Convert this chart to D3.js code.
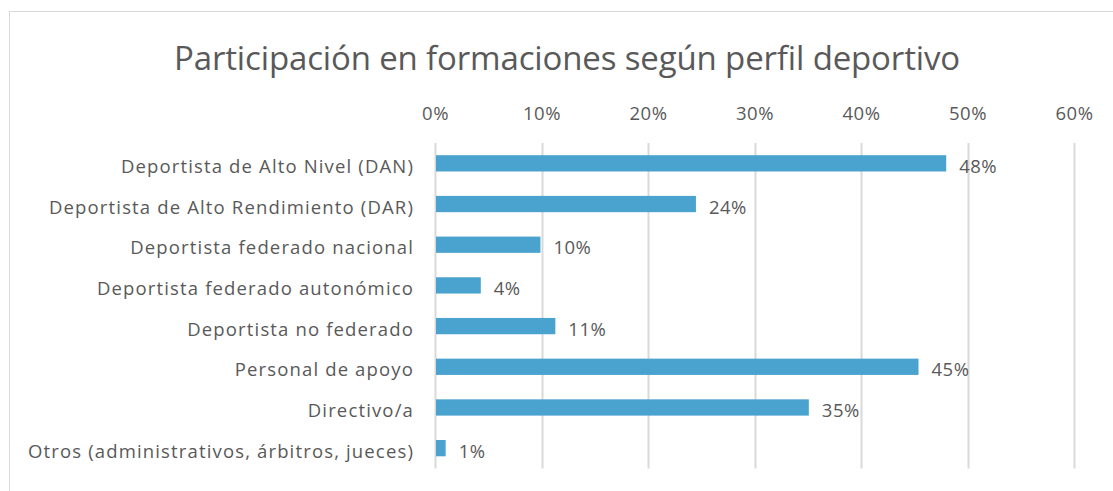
<!DOCTYPE html>
<html>
<head>
<meta charset="utf-8">
<script src="https://cdn.jsdelivr.net/npm/d3@7"></script>
<style>
  body { margin: 0; background: #fff; }
  text { font-family: "Open Sans", Lato, sans-serif; fill: #595959; }
</style>
</head>
<body>
<svg width="1113" height="491"></svg>
<script>
// chart data
var categories = [
    'Deportista de Alto Nivel (DAN)',
    'Deportista de Alto Rendimiento (DAR)',
    'Deportista federado nacional',
    'Deportista federado autonómico',
    'Deportista no federado',
    'Personal de apoyo',
    'Directivo/a',
    'Otros (administrativos, árbitros, jueces)'
];
var values = [0.48, 0.245, 0.099, 0.043, 0.113, 0.454, 0.351, 0.01];
var labels = ['48%', '24%', '10%', '4%', '11%', '45%', '35%', '1%'];
var ticks = [0, 0.1, 0.2, 0.3, 0.4, 0.5, 0.6];
var title = 'Participación en formaciones según perfil deportivo';

var svg = d3.select('svg');

// letter-spacing so a text node reaches a target width
function fitSpacing(node, target) {
    var w = node.getComputedTextLength();
    return (target - w) / node.textContent.length;
}

// chart area border
svg.append('rect')
    .attr('x', 9.5).attr('y', 11.5)
    .attr('width', 1200).attr('height', 600)
    .attr('fill', 'none')
    .attr('stroke', '#d9d9d9');

var plot = {l: 435, r: 1074, t: 143, b: 468.5};

var x = d3.scaleLinear().domain([0, 0.6]).range([plot.l, plot.r]);
var y = d3.scaleBand().domain(categories).range([plot.t, plot.b]).paddingInner(0.6).paddingOuter(0.3);

// title
var t = svg.append('text')
    .attr('x', 567).attr('y', 70)
    .attr('text-anchor', 'middle')
    .style('font-family', '"Open Sans", sans-serif')
    .style('font-size', '33px')
    .text(title);
t.style('letter-spacing', fitSpacing(t.node(), 786) + 'px');

// gridlines
svg.append('g').selectAll('line')
    .data(ticks)
    .enter().append('line')
    .attr('x1', function(d) { return Math.round(x(d)) + 0.5; })
    .attr('x2', function(d) { return Math.round(x(d)) + 0.5; })
    .attr('y1', plot.t).attr('y2', plot.b)
    .attr('stroke', '#d9d9d9')
    .attr('stroke-width', 2);

// top axis labels
var xAxis = d3.axisTop(x).tickValues(ticks).tickFormat(d3.format('.0%')).tickSize(0).tickPadding(0);
var axG = svg.append('g').attr('transform', 'translate(0,120)').call(xAxis);
axG.select('.domain').remove();
axG.selectAll('text').attr('dy', 0)
    .style('font-size', '18.5px').style('font-family', '"Open Sans", sans-serif')
    .attr('fill', '#595959');
var sp10 = fitSpacing(axG.selectAll('text').nodes()[1], 38);
axG.selectAll('text').style('letter-spacing', sp10 + 'px');

// category labels
var yAxis = d3.axisLeft(y).tickSize(0).tickPadding(0);
var ayG = svg.append('g').attr('transform', 'translate(414,0)').call(yAxis);
ayG.select('.domain').remove();
ayG.selectAll('text').attr('dy', '0.52em')
    .style('font-size', '18.5px').style('font-family', '"Open Sans", sans-serif')
    .attr('fill', '#595959');
var longest = ayG.selectAll('text').nodes()[categories.length - 1];
ayG.selectAll('text').style('letter-spacing', fitSpacing(longest, 386) + 'px');

// bars
var data = categories.map(function(c, i) { return {cat: c, v: values[i], lab: labels[i]}; });
svg.append('g').selectAll('rect')
    .data(data)
    .enter().append('rect')
    .attr('x', x(0) + 1)
    .attr('y', function(d) { return y(d.cat); })
    .attr('width', function(d) { return x(d.v) - x(0) - 1; })
    .attr('height', y.bandwidth())
    .attr('fill', '#4aa2cf');

// value labels
svg.append('g').selectAll('text')
    .data(data)
    .enter().append('text')
    .attr('x', function(d) { return x(d.v) + 13; })
    .attr('y', function(d) { return y(d.cat) + y.bandwidth() / 2; })
    .attr('dy', '0.52em')
    .style('font-size', '18.5px')
    .style('letter-spacing', sp10 + 'px')
    .text(function(d) { return d.lab; });
</script>
</body>
</html>
